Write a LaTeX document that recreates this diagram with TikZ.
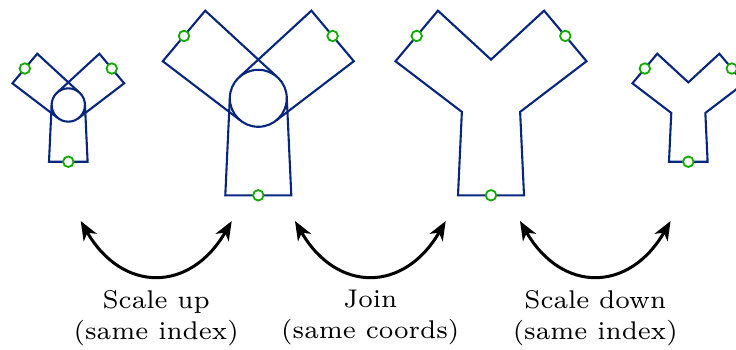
\documentclass[tikz,border=0pt]{standalone}
\usetikzlibrary{arrows.meta}
\definecolor{shapeblue}{RGB}{8,38,125}
\definecolor{handlegreen}{RGB}{17,170,0}
\tikzset{
  outline/.style={draw=shapeblue, line width=2.1pt, line join=miter},
  handle/.style={circle, draw=handlegreen, fill=white, line width=1.8pt,
    minimum size=10.5pt, inner sep=0pt},
  swaparrow/.style={line width=3pt,
    {Stealth[length=19pt,width=15pt,inset=5.5pt]}-{Stealth[length=19pt,width=15pt,inset=5.5pt]}},
  lbl/.style={font=\fontsize{7}{8.47}\selectfont, align=center, scale=3.66,
    transform shape, inner sep=0pt},
}
\begin{document}
\begin{tikzpicture}[x=1pt, y=1pt]
\useasboundingbox (0,0) rectangle (736,349);
\clip (0,0) rectangle (736,349);

% separate parts: two arms, a stem and the joint circle
\begin{scope}[shift={(68.3,244)}, scale=0.585]
  \foreach \a/\n in {140/left, 40/right, -90/stem}
    \draw[outline, rotate=\a] (0,28.5) -- (97,33) -- (97,-33) -- (0,-28.5);
  \draw[outline] (0,0) coordinate (c1) circle[radius=28.5];
  \foreach \a/\n in {140/left, 40/right, -90/stem}
    \node[handle] (small-\n) at (\a:97) {};
\end{scope}

\begin{scope}[shift={(258.3,250.7)}]
  \foreach \a/\n in {140/left, 40/right, -90/stem}
    \draw[outline, rotate=\a] (0,28.5) -- (97,33) -- (97,-33) -- (0,-28.5);
  \draw[outline] (0,0) coordinate (c2) circle[radius=28.5];
  \foreach \a/\n in {140/left, 40/right, -90/stem}
    \node[handle] (big-\n) at (\a:97) {};
\end{scope}

% joined outlines
\begin{scope}[shift={(491,250.7)}]
  \draw[outline] (-95.51,37.07) -- (-53.09,87.63) -- (0,38.71) -- (53.09,87.63)
    -- (95.51,37.07) -- (29.13,-13.58) -- (33,-97) -- (-33,-97)
    -- (-29.13,-13.58) -- cycle;
  \foreach \a/\n in {140/left, 40/right, -90/stem}
    \node[handle] (bigY-\n) at (\a:97) {};
\end{scope}

\begin{scope}[shift={(688.3,244)}, scale=0.585]
  \draw[outline] (-95.51,37.07) -- (-53.09,87.63) -- (0,38.71) -- (53.09,87.63)
    -- (95.51,37.07) -- (29.13,-13.58) -- (33,-97) -- (-33,-97)
    -- (-29.13,-13.58) -- cycle;
  \foreach \a/\n in {140/left, 40/right, -90/stem}
    \node[handle] (smallY-\n) at (\a:97) {};
\end{scope}

% curved two-way arrows
\coordinate (up-a) at (80.7,128);
\coordinate (up-b) at (231.7,128);
\coordinate (join-a) at (295,128);
\coordinate (join-b) at (445.7,128);
\coordinate (down-a) at (520,128);
\coordinate (down-b) at (670.6,128);
\draw[swaparrow] (up-a) .. controls +(41.5,-72) and +(-41.5,-72) .. (up-b);
\draw[swaparrow] (join-a) .. controls +(41.5,-72) and +(-41.5,-72) .. (join-b);
\draw[swaparrow] (down-a) .. controls +(41.5,-72) and +(-41.5,-72) .. (down-b);

% captions
\node[lbl] (cap-up) at (156.2,31.2) {Scale up\\(same index)};
\node[lbl] (cap-join) at (370.3,31.2) {Join\\(same coords)};
\node[lbl] (cap-down) at (595.3,31.2) {Scale down\\(same index)};
\end{tikzpicture}
\end{document}
